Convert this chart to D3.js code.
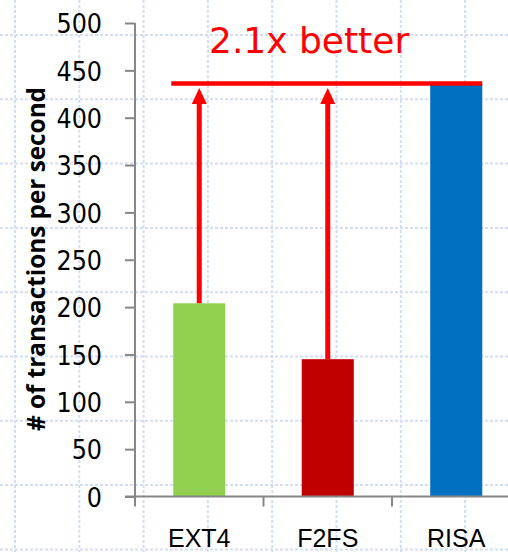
<!DOCTYPE html>
<html>
<head>
<meta charset="utf-8">
<script src="https://cdn.jsdelivr.net/npm/d3@7"></script>
<style>
html,body{margin:0;padding:0;background:#fff;}
svg{display:block;}
</style>
</head>
<body>
<svg id="chart" width="508" height="552"></svg>
<script>
const categories = ["EXT4", "F2FS", "RISA"];
const values = [204, 145, 436];
const colors = ["#92d050", "#c00000", "#0070c0"];
const yTicks = [0, 50, 100, 150, 200, 250, 300, 350, 400, 450, 500];
const annotation = "2.1x better";
const yTitle = "# of transactions per second";

const W = 508, H = 552;
const svg = d3.select("#chart");

// background grid (decorative)
const gridStep = 64.3;
const grid = svg.append("g");
for (let x = 15; x < W; x += gridStep) {
  grid.append("line").attr("x1", x).attr("x2", x).attr("y1", 0).attr("y2", H)
    .attr("stroke", "#d3ddf7").attr("stroke-width", 2).attr("stroke-dasharray", "3,2");
}
for (let y = 35; y < H; y += gridStep) {
  grid.append("line").attr("x1", 0).attr("x2", W).attr("y1", y).attr("y2", y)
    .attr("stroke", "#d3ddf7").attr("stroke-width", 2).attr("stroke-dasharray", "3,2");
}

const x0 = 135, x1 = 520.5;
const y = d3.scaleLinear().domain([0, 500]).range([496.5, 23]);
const x = d3.scaleBand().domain(categories).range([x0, x1]).paddingInner(0.595).paddingOuter(0.2975);
const step = x.step();

// bars
svg.append("g").selectAll("rect").data(categories).join("rect")
  .attr("x", d => x(d)).attr("width", x.bandwidth())
  .attr("y", (d, i) => y(values[i])).attr("height", (d, i) => y(0) - y(values[i]))
  .attr("fill", (d, i) => colors[i]);

const axisColor = "#878787";
// y axis
const yAxis = svg.append("g").attr("transform", `translate(${x0},0)`)
  .call(d3.axisLeft(y).tickValues(yTicks).tickSize(10).tickPadding(10).tickFormat(d3.format("d")));
yAxis.select(".domain").attr("stroke", axisColor).attr("stroke-width", 2).attr("d", `M0,${y(500)}V${y(0)}`);
yAxis.selectAll(".tick line").attr("stroke", axisColor).attr("stroke-width", 2);
yAxis.selectAll(".tick text").attr("fill", "#000")
  .style("font-family", "'DejaVu Sans Condensed', 'DejaVu Sans'").style("font-size", "26.5px")
  .attr("x", -33).attr("dy", "0.37em");

// x axis
const xa = svg.append("g");
xa.append("line").attr("x1", x0 - 10).attr("x2", W).attr("y1", y(0)).attr("y2", y(0))
  .attr("stroke", axisColor).attr("stroke-width", 2);
const bounds = categories.map((d, i) => x0 + i * step);
xa.selectAll("line.tk").data(bounds).join("line").attr("class", "tk")
  .attr("x1", d => d).attr("x2", d => d).attr("y1", y(0)).attr("y2", y(0) + 10)
  .attr("stroke", axisColor).attr("stroke-width", 2);
xa.selectAll("text").data(categories).join("text")
  .attr("x", d => x(d) + x.bandwidth() / 2).attr("y", 547)
  .attr("text-anchor", "middle")
  .style("font-family", "'Liberation Sans', Arial").style("font-size", "25px")
  .text(d => d);

// y title
svg.append("text")
  .attr("transform", `translate(45,${259}) rotate(-90)`)
  .attr("text-anchor", "middle")
  .style("font-family", "'Open Sans'").style("font-weight", "bold").style("font-size", "24.3px")
  .text(yTitle);

// annotation
const best = d3.max(values);
const yb = y(best);
const red = "#ff0000";
svg.append("line").attr("x1", x(categories[0]) - 2).attr("x2", x(categories[2]) + x.bandwidth())
  .attr("y1", yb).attr("y2", yb).attr("stroke", red).attr("stroke-width", 4.5);

categories.slice(0, 2).forEach((c, i) => {
  const cx = x(c) + x.bandwidth() / 2;
  const tip = yb + 4.5;
  svg.append("line").attr("x1", cx).attr("x2", cx).attr("y1", y(values[i])).attr("y2", tip + 14)
    .attr("stroke", red).attr("stroke-width", 5);
  svg.append("path").attr("d", `M${cx},${tip}L${cx - 7.5},${tip + 16}L${cx + 7.5},${tip + 16}Z`).attr("fill", red);
});

svg.append("text").attr("x", 209).attr("y", 53)
  .style("font-family", "'DejaVu Sans'").style("font-size", "36px")
  .attr("fill", red).text(annotation);
</script>
</body>
</html>
